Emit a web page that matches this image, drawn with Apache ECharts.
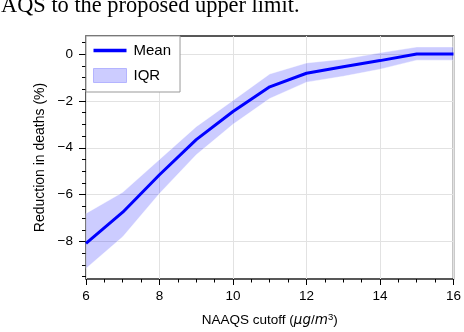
<!DOCTYPE html>
<html>
<head>
<meta charset="utf-8">
<script src="https://cdn.jsdelivr.net/npm/echarts@6/dist/echarts.min.js"></script>
<style>
  html, body { margin: 0; padding: 0; background: #fff; }
  #chart { width: 464px; height: 332px; }
</style>
</head>
<body>
<div id="chart"></div>
<script>
// cutoff values (x) and the curves
const cutoffs = [6, 7, 8, 9, 10, 11, 12, 13, 14, 15, 16];
const meanReduction = [-8.08, -6.75, -5.15, -3.65, -2.45, -1.4, -0.82, -0.54, -0.28, 0, 0];
const iqrUpper = [-6.8, -5.9, -4.5, -3.1, -1.98, -0.85, -0.38, -0.22, 0.05, 0.3, 0.3];
const iqrLower = [-9.15, -7.8, -5.95, -4.3, -3.0, -1.9, -1.2, -0.95, -0.65, -0.26, -0.26];

const xTicks = [6, 8, 10, 12, 14, 16];
const yTicks = [-8, -6, -4, -2, 0];
const yMinorTicks = [-9.5, -9, -8.5, -7.5, -7, -6.5, -5.5, -5, -4.5, -3.5, -3, -2.5, -1.5, -1, -0.5, 0.5];

const headline = 'AQS to the proposed upper limit.';

const font = 'Liberation Sans, Arial, sans-serif';
const yMin = -9.6, yMax = 0.77;

let chart = echarts.init(document.getElementById('chart'), null, {renderer: 'canvas'});

let option = {
    animation: false,
    backgroundColor: '#fff',
    graphic: [{
        type: 'text',
        left: 1,
        top: -5,
        style: {
            text: headline,
            font: '22.4px "Liberation Serif", "Times New Roman", serif',
            fill: '#000'
        }
    }],
    grid: {
        left: 86, top: 36, right: 9, bottom: 53,
        show: true, borderColor: '#222', borderWidth: 1.5
    },
    legend: {
        left: 86, top: 36,
        orient: 'vertical',
        backgroundColor: '#fff',
        borderColor: '#999', borderWidth: 1,
        padding: [7, 9, 9, 7],
        itemWidth: 33, itemHeight: 14, itemGap: 10,
        textStyle: {fontFamily: font, fontSize: 15, color: '#000', padding: [0, 0, 0, 2]},
        data: [
            {name: 'Mean', icon: 'path://M0,0L32,0L32,3.2L0,3.2Z', itemStyle: {color: '#0000ff'}},
            {name: 'IQR', icon: 'rect', itemStyle: {color: '#ccccff', borderColor: '#b4b4ff', borderWidth: 1}}
        ]
    },
    xAxis: [{
        type: 'value', min: 6, max: 16, interval: 2,
        name: 'NAAQS cutoff ({i|μg}/{i|m}{s|3})',
        nameLocation: 'middle', nameGap: 33,
        nameTextStyle: {
            fontFamily: font, fontSize: 13.5, color: '#000',
            rich: {
                i: {fontFamily: 'DejaVu Sans', fontSize: 13.5, fontStyle: 'italic', color: '#000'},
                s: {fontFamily: font, fontSize: 9.5, color: '#000', verticalAlign: 'top', padding: [0, 0, 6, 0]}
            }
        },
        axisLine: {show: false, onZero: false},
        axisTick: {show: true, length: 6, lineStyle: {color: '#000'}},
        minorTick: {show: true, splitNumber: 4, length: 3.5, lineStyle: {color: '#000'}},
        axisLabel: {fontFamily: font, fontSize: 13.5, color: '#000', margin: 10},
        splitLine: {show: true, lineStyle: {color: '#e2e2e2', width: 1}}
    }],
    yAxis: [{
        type: 'value', min: yMin, max: yMax, splitNumber: 5,
        name: 'Reduction in deaths (%)',
        nameLocation: 'middle', nameGap: 38,
        nameTextStyle: {fontFamily: font, fontSize: 14, color: '#000'},
        axisLine: {show: false, onZero: false},
        axisTick: {show: true, length: 7, customValues: yTicks, lineStyle: {color: '#000'}},
        axisLabel: {
            fontFamily: font, fontSize: 13.5, color: '#000', margin: 13,
            customValues: yTicks,
            formatter: v => String(v).replace('-', '\u2212')
        },
        splitLine: {show: true, lineStyle: {color: '#e2e2e2', width: 1}}
    }, {
        // minor ticks only
        type: 'value', min: yMin, max: yMax, position: 'left',
        axisLine: {show: false, onZero: false},
        axisTick: {show: true, length: 4, customValues: yMinorTicks, lineStyle: {color: '#000'}},
        axisLabel: {show: false},
        splitLine: {show: false}
    }],
    series: [{
        name: 'IQR',
        type: 'custom',
        z: 1,
        itemStyle: {color: '#ccccff'},
        encode: {x: 0, y: [1, 2]},
        data: cutoffs.map((x, i) => [x, iqrUpper[i], iqrLower[i]]),
        renderItem: function (params, api) {
            if (params.dataIndex !== 0) return;
            let pts = [];
            for (let i = 0; i < cutoffs.length; i++) pts.push(api.coord([cutoffs[i], iqrUpper[i]]));
            for (let i = cutoffs.length - 1; i >= 0; i--) pts.push(api.coord([cutoffs[i], iqrLower[i]]));
            return {
                type: 'polygon',
                shape: {points: pts},
                style: {fill: 'rgba(0,0,255,0.2)', stroke: 'rgba(255,255,255,0.5)', lineWidth: 0.8}
            };
        }
    }, {
        name: 'Mean',
        type: 'line',
        z: 3,
        symbol: 'none',
        showSymbol: false,
        color: '#0000ff',
        lineStyle: {color: '#0000ff', width: 3},
        data: cutoffs.map((x, i) => [x, meanReduction[i]])
    }]
};

chart.setOption(option);
</script>
</body>
</html>
